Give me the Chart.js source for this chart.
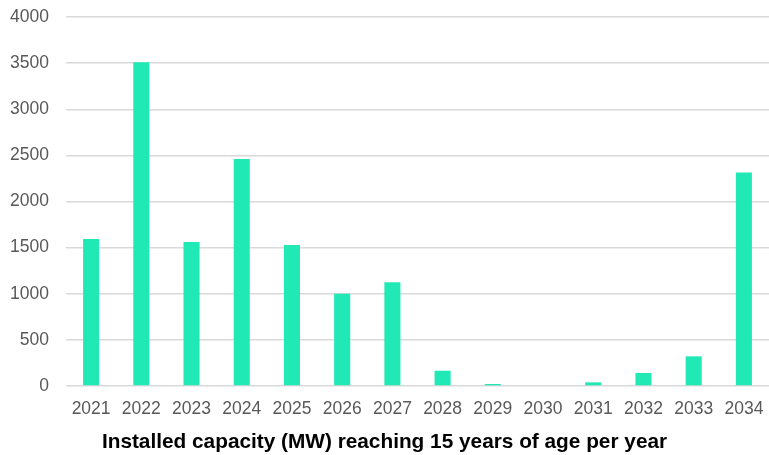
<!DOCTYPE html>
<html>
<head>
<meta charset="utf-8">
<script src="https://cdn.jsdelivr.net/npm/chart.js@4/dist/chart.umd.min.js"></script>
<style>
  html, body { margin: 0; padding: 0; background: #ffffff; }
  #wrap { width: 769px; height: 455px; position: relative; }
</style>
</head>
<body>
<div id="wrap"><canvas id="chart"></canvas></div>
<script>
// Installed capacity (MW) that reaches 15 years of age, by year
const years = ['2021', '2022', '2023', '2024', '2025', '2026', '2027',
               '2028', '2029', '2030', '2031', '2032', '2033', '2034'];
const capacityMW = [1595, 3510, 1560, 2460, 1530, 1000, 1125,
                    166, 22, 0, 40, 142, 322, 2315];
const yTicks = [0, 500, 1000, 1500, 2000, 2500, 3000, 3500, 4000];
const chartTitle = 'Installed capacity (MW) reaching 15 years of age per year';

const FONT = '"Liberation Sans", Arial, sans-serif';

new Chart(document.getElementById('chart'), {
  type: 'bar',
  data: {
    labels: years,
    datasets: [{
      data: capacityMW,
      backgroundColor: '#20E9B5',
      borderWidth: 0,
      categoryPercentage: 1,
      barPercentage: 0.32
    }]
  },
  options: {
    responsive: true,
    maintainAspectRatio: false,
    animation: false,
    layout: { padding: { top: 17, right: 0, bottom: 0, left: 0 } },
    plugins: {
      legend: { display: false },
      tooltip: { enabled: false },
      title: {
        display: true,
        text: chartTitle,
        position: 'bottom',
        color: '#000000',
        font: { family: FONT, size: 20.8, weight: 'bold' },
        padding: { top: 0, bottom: 0 }
      }
    },
    scales: {
      x: {
        grid: { display: false, drawTicks: false },
        border: { display: false },
        ticks: {
          color: '#595959',
          font: { family: FONT, size: 17.5 },
          padding: 13,
          maxRotation: 0,
          autoSkip: false
        },
        afterFit: (scale) => {
          scale.height = 44.0;
          scale.paddingLeft = 0;
          scale.paddingRight = 0;
        }
      },
      y: {
        min: 0,
        max: 4000,
        afterBuildTicks: (scale) => { scale.ticks = yTicks.map(v => ({ value: v })); },
        grid: { color: '#d9d9d9', lineWidth: 1.5, drawTicks: false },
        border: { display: false },
        ticks: {
          color: '#595959',
          font: { family: FONT, size: 17.5 },
          padding: 17,
          callback: (v) => String(v)
        },
        afterFit: (scale) => {
          scale.width = 66;
          scale.paddingTop = 0;
          scale.paddingBottom = 0;
        }
      }
    }
  }
});
</script>
</body>
</html>
